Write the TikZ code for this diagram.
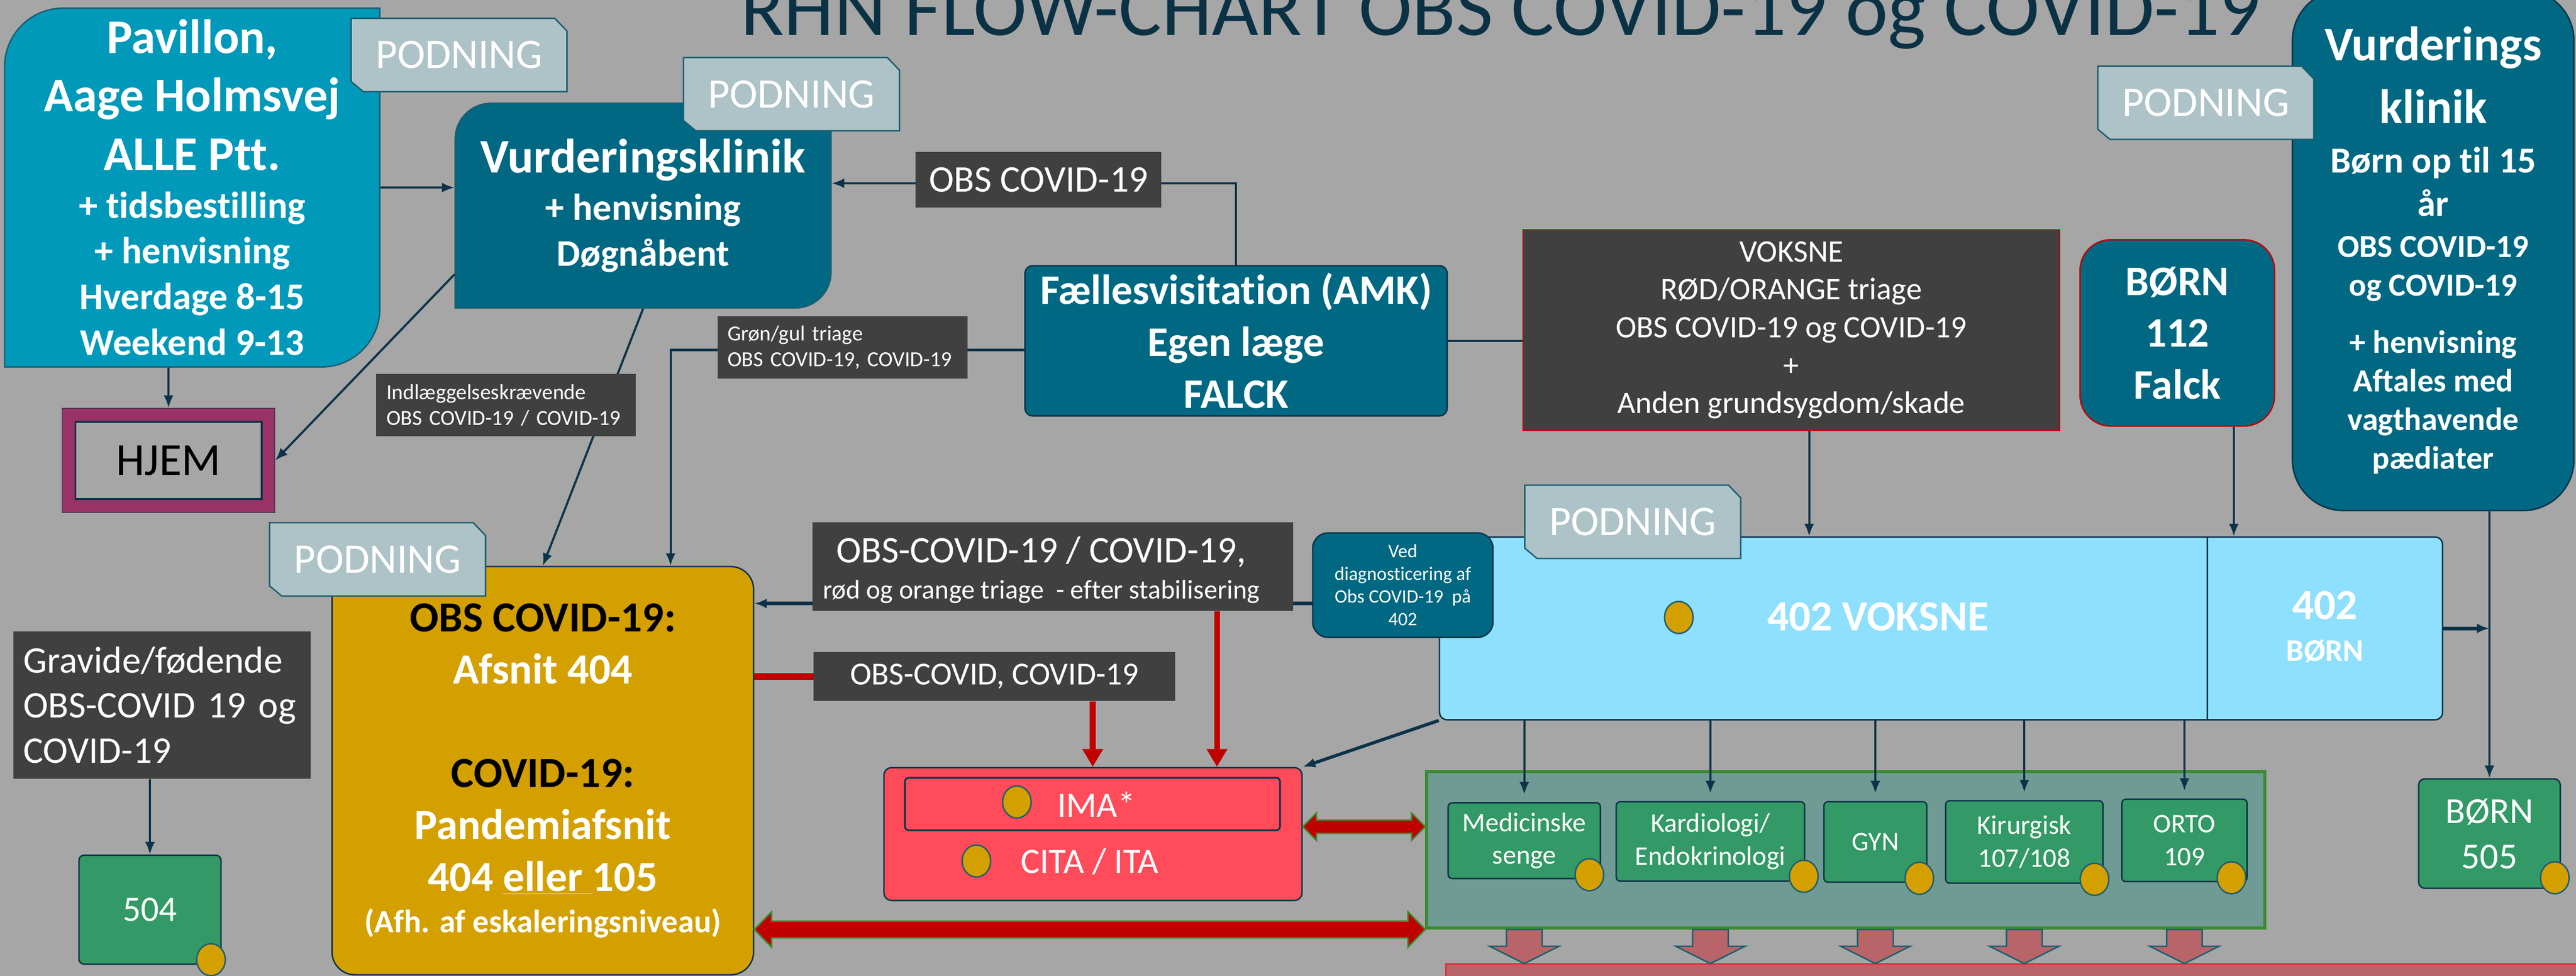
\documentclass[tikz,border=0pt]{standalone}
\usepackage{fontspec}
\setmainfont{Carlito}[Ligatures=NoCommon]
\usepackage{tikz}
\usetikzlibrary{arrows.meta,shapes.geometric,calc}

\definecolor{bgray}{HTML}{A6A6A6}
\definecolor{navy}{HTML}{0D3349}
\definecolor{titlecol}{HTML}{0B3145}
\definecolor{pavblue}{HTML}{0099BA}
\definecolor{klinik}{HTML}{006882}
\definecolor{podgray}{HTML}{ADC3C8}
\definecolor{podline}{HTML}{1D5E6E}
\definecolor{lblgray}{HTML}{404040}
\definecolor{hjemred}{HTML}{993366}
\definecolor{gold}{HTML}{D4A000}
\definecolor{lightblue}{HTML}{8FDFFF}
\definecolor{wardgreen}{HTML}{339966}
\definecolor{areagreen}{HTML}{6F9B94}
\definecolor{areaborder}{HTML}{3B8B2F}
\definecolor{imared}{HTML}{FF4B5A}
\definecolor{darkred}{HTML}{C00000}
\definecolor{dusty}{HTML}{B86468}
\definecolor{barline}{HTML}{E0303A}

\begin{document}
\begin{tikzpicture}[
 box/.style={draw=navy, line width=0.8pt, text=white, inner sep=0pt, align=center},
 lbl/.style={fill=lblgray, text=white, inner sep=0pt},
 conn/.style={draw=navy, line width=1.2pt, -{Latex[length=7pt,width=5.5pt]}},
 redarr/.style={draw=darkred, line width=3.2pt, -{Triangle[length=10pt,width=11pt]}},
 dot/.style={ellipse, fill=gold, draw=podline, line width=0.8pt, minimum width=0.56cm, minimum height=0.63cm, inner sep=0pt},
 ward/.style={box, fill=wardgreen, rounded corners=0.08cm, font=\fontsize{15}{18.3}\selectfont},
 blockarr/.style={fill=darkred, draw=areaborder, line width=0.8pt},
 downarr/.style={fill=dusty, draw=podline, line width=0.8pt},
 podtag/.style={fill=podgray, draw=podline, line width=0.8pt}]
\useasboundingbox (0,0) rectangle (50.59,-19.17);
\fill[bgray] (0,0) rectangle (50.59,-19.17);

\node[anchor=base, text=titlecol, font=\fontsize{45}{54}\selectfont] (title) at (29.47,-0.69) {RHN FLOW-CHART OBS COVID-19 og COVID-19};

%pavillon og vurderingsklinik (runde hjorner oppe venstre, nede hojre)
\draw[fill=pavblue, draw=podline, line width=0.8pt] (0.09,-7.21) -- (0.09,-1.31) arc[start angle=180, end angle=90, radius=1.15] -- (7.46,-0.16) -- (7.46,-6.06) arc[start angle=0, end angle=-90, radius=1.15] -- cycle;
\node[box, draw=none, minimum width=7.37cm, minimum height=7.05cm, font=\bfseries\fontsize{21}{25.6}\selectfont] (pav) at (3.775,-3.685) {{\fontsize{27}{32}\selectfont Pavillon,}\\[0.24cm] {\fontsize{27}{32}\selectfont Aage Holmsvej}\\[0.25cm] {\fontsize{27}{32}\selectfont ALLE Ptt.}\\[0.04cm] + tidsbestilling\\ + henvisning\\ Hverdage 8-15\\ Weekend 9-13};
\draw[fill=klinik, draw=podline, line width=0.8pt] (8.94,-6.05) -- (8.94,-2.73) arc[start angle=180, end angle=90, radius=0.7] -- (16.32,-2.03) -- (16.32,-5.35) arc[start angle=0, end angle=-90, radius=0.7] -- cycle;
\node[box, draw=none, minimum width=7.38cm, minimum height=4.02cm, font=\bfseries\fontsize{21}{25.6}\selectfont] (vk) at (12.63,-4.04) {{\fontsize{27}{32}\selectfont Vurderingsklinik}\\[0.04cm] + henvisning\\ Døgnåbent};

\node[box, fill=klinik, rounded corners=0.15cm, minimum width=8.29cm, minimum height=2.95cm, font=\bfseries\fontsize{23.5}{29}\selectfont] (fv) at (24.275,-6.695) {Fællesvisitation (AMK)\\ Egen læge\\ FALCK};
\node[box, fill=lblgray, draw=darkred, line width=0.6pt, minimum width=10.54cm, minimum height=3.95cm, font=\fontsize{17.5}{21.2}\selectfont] (vok) at (35.18,-6.485) {VOKSNE\\ RØD/ORANGE triage\\ OBS COVID-19 og COVID-19\\ +\\ Anden grundsygdom/skade};
\node[box, fill=klinik, draw=darkred, rounded corners=0.6cm, minimum width=3.82cm, minimum height=3.66cm, font=\bfseries\fontsize{23.5}{29}\selectfont] (b112) at (42.76,-6.54) {BØRN\\ 112\\ Falck};
\node[box, fill=klinik, rounded corners=1cm, minimum width=5.53cm, minimum height=10.23cm, font=\bfseries\fontsize{18}{21.6}\selectfont] (vkr) at (47.785,-4.915) {{\fontsize{27}{32}\selectfont Vurderings}\\[0.38cm] {\fontsize{27}{32}\selectfont klinik}\\[0.21cm] {\fontsize{20.5}{24}\selectfont Børn op til 15}\\[0.09cm] {\fontsize{20.5}{24}\selectfont år}\\[0.05cm] OBS COVID-19\\ og COVID-19\\[0.36cm] + henvisning\\ Aftales med\\ vagthavende\\ pædiater};

%hjem
\node[draw=navy, fill=hjemred, minimum width=4.18cm, minimum height=2.05cm, inner sep=0pt] (hjem) at (3.31,-9.045) {};
\node[draw=navy, line width=1pt, fill=bgray, minimum width=3.66cm, minimum height=1.52cm, font=\fontsize{25.6}{30}\selectfont] (hjemin) at (hjem.center) {HJEM};

\node[lbl, text width=5.44cm, inner xsep=0.2cm, minimum height=2.90cm, align=left, font=\fontsize{21}{25.2}\selectfont] (grav) at (3.18,-13.85) {Gravide/fødende\\ OBS-COVID 19 og\\ COVID-19};
\node[box, fill=wardgreen, rounded corners=0.1cm, minimum width=2.79cm, minimum height=2.14cm, font=\fontsize{20}{24}\selectfont] (b504) at (2.945,-17.87) {504};
\node[box, fill=gold, rounded corners=0.45cm, minimum width=8.28cm, minimum height=8.02cm, font=\bfseries\fontsize{24}{29}\selectfont] (obs) at (10.66,-15.14) {{\color{black}OBS COVID-19:}\\ Afsnit 404\\[1.02cm] {\color{black}COVID-19:}\\ Pandemiafsnit\\ 404 \underline{eller\ }105\\[-0.21cm] {\fontsize{18}{22}\selectfont (Afh. af eskaleringsniveau)}};

%402
\node[box, fill=lightblue, rounded corners=0.15cm, minimum width=19.70cm, minimum height=3.59cm] (v402) at (38.12,-12.345) {};
\draw[navy, line width=1pt] (43.35,-10.55) -- (43.35,-14.14);
\node[dot] (d402) at (32.97,-12.13) {};
\node[text=white, font=\bfseries\fontsize{24}{29}\selectfont] (vokstxt) at (36.88,-12.12) {402 VOKSNE};
\node[text=white, align=center, font=\bfseries\fontsize{17.5}{23.3}\selectfont] (borntxt) at (45.66,-12.32) {{\fontsize{24}{29}\selectfont 402}\\ BØRN};
\node[box, fill=klinik, rounded corners=0.3cm, minimum width=3.54cm, minimum height=2.05cm, font=\fontsize{10.6}{12.65}\selectfont] (ved) at (27.55,-11.495) {Ved\\ diagnosticering af\\ Obs COVID-19\ \ på\\ 402};

%afsnit
\node[draw=areaborder, line width=1.7pt, fill=areagreen, minimum width=16.46cm, minimum height=3.07cm, inner sep=0pt] (grn) at (36.25,-16.695) {};
\node[ward, minimum width=2.99cm, minimum height=1.49cm] (med) at (29.935,-16.515) {Medicinske\\ senge};
\node[ward, minimum width=3.70cm, minimum height=1.56cm] (kar) at (33.59,-16.53) {Kardiologi/\\ Endokrinologi};
\node[ward, minimum width=2.02cm, minimum height=1.58cm] (gyn) at (36.83,-16.54) {GYN};
\node[ward, minimum width=3.09cm, minimum height=1.62cm] (kir) at (39.755,-16.54) {Kirurgisk\\ 107/108};
\node[ward, minimum width=2.46cm, minimum height=1.62cm] (ort) at (42.90,-16.51) {ORTO\\ 109};
\node[box, fill=wardgreen, rounded corners=0.12cm, minimum width=2.78cm, minimum height=2.15cm, font=\fontsize{20.5}{25.3}\selectfont] (b505) at (48.89,-16.375) {BØRN\\ 505};

%ima / cita
\node[box, fill=imared, rounded corners=0.15cm, minimum width=8.21cm, minimum height=2.61cm] (ima) at (21.465,-16.385) {};
\node[draw=navy, line width=1pt, rounded corners=0.08cm, minimum width=7.37cm, minimum height=1.03cm, inner sep=0pt] (imain) at (21.455,-15.795) {};
\node[dot] (dima) at (19.97,-15.755) {};
\node[text=white, font=\fontsize{20}{24}\selectfont] (imatxt) at (21.53,-15.80) {IMA*};
\node[dot] (dcita) at (19.175,-16.915) {};
\node[text=white, font=\fontsize{20}{24}\selectfont] (citatxt) at (21.40,-16.93) {CITA / ITA};

\node[fill=dusty, draw=barline, line width=1pt, minimum width=22.8cm, minimum height=0.6cm, inner sep=0pt, anchor=north west] (bar) at (28.38,-18.92) {};
\foreach \w in {med,kar,gyn,kir,ort}
 \draw[downarr] let \p1=(grn.south -| \w.south) in (\x1-0.35cm,\y1) -- (\x1+0.35cm,\y1) -- (\x1+0.35cm,\y1-0.33cm) -- (\x1+0.68cm,\y1-0.33cm) -- (\x1,\y1-0.67cm) -- (\x1-0.68cm,\y1-0.33cm) -- (\x1-0.35cm,\y1-0.33cm) -- cycle;

%pile bag etiketterne
\draw[conn] (fv.north) |- ([yshift=0.44cm]vk.east);
\draw[conn] ([yshift=-0.18cm]fv.west) -| ([xshift=2.51cm]obs.north);
\draw[conn] (vk.south) -- (obs.north);
\draw[conn, line width=2pt] ([yshift=-0.36cm]ved.west) -- ([yshift=-0.36cm]ved.west -| obs.east);

\node[lbl, minimum width=4.83cm, minimum height=1.10cm, font=\fontsize{21}{25}\selectfont] (obslbl) at (20.395,-3.53) {OBS COVID-19};
\node[lbl, text width=4.51cm, inner xsep=0.2cm, minimum height=1.23cm, align=left, font=\fontsize{12}{14.5}\selectfont] (gglbl) at (16.545,-6.825) {Grøn/gul triage\\ OBS COVID-19, COVID-19};
\node[lbl, text width=4.70cm, inner xsep=0.2cm, minimum height=1.22cm, align=left, font=\fontsize{12}{14.5}\selectfont] (indl) at (9.94,-7.96) {Indlæggelseskrævende\\ OBS COVID-19 / COVID-19};
\node[lbl, minimum width=9.44cm, minimum height=1.74cm] (lbl1) at (20.68,-11.13) {};
\node[text=white, align=center, inner sep=0pt, font=\fontsize{15}{20.1}\selectfont] (lbl1txt) at (20.45,-11.2) {{\fontsize{21}{25}\selectfont OBS-COVID-19 / COVID-19,}\\ rød og orange triage\ \ - efter stabilisering};
\node[lbl, minimum width=7.10cm, minimum height=0.96cm, font=\fontsize{18}{22}\selectfont] (lbl2) at (19.53,-13.29) {OBS-COVID, COVID-19};

%pile
\draw[conn] (pav.east) -- (pav.east -| vk.west);
\draw[conn] (hjem.north |- pav.south) -- (hjem.north);
\draw[conn] ([yshift=-1.35cm]vk.west) -- (hjem.east);
\draw[navy, line width=1.2pt] (fv.east) -- (fv.east -| vok.west);
\draw[conn] ([xshift=0.35cm]vok.south) -- ([xshift=0.35cm]vok.south |- v402.north);
\draw[conn] ([xshift=1.11cm]b112.south) -- ([xshift=1.11cm]b112.south |- v402.north);
\draw[conn] (b505.north |- vkr.south) -- (b505.north);
\draw[conn, line width=2pt] (v402.east) -- (v402.east -| b505.north);
\draw[conn, line width=1.8pt] (v402.south west) -- (ima.north east);
\foreach \w in {med,kar,gyn,kir,ort}
 \draw[conn] (v402.south -| \w.north) -- ([yshift=0.15cm]\w.north);
\draw[conn] (b504.north |- grav.south) -- (b504.north);

\draw[darkred, line width=3.5pt] (obs.east |- lbl2.west) -- (lbl2.west);
\draw[redarr] ([xshift=1.93cm]lbl2.south) -- ([xshift=1.93cm]lbl2.south |- ima.north);
\draw[redarr] ([xshift=3.22cm]lbl1.south) -- ([xshift=3.22cm]lbl1.south |- ima.north);

%dobbeltpile
\draw[blockarr] let \p1=([yshift=0.145cm]ima.east), \p2=(grn.west) in (\x1,\y1) -- ++(0.27,0.27) -- ++(0,-0.14) -- (\x2-0.27cm,\y1+0.13cm) -- ++(0,0.14) -- (\x2,\y1) -- ++(-0.27,-0.27) -- ++(0,0.14) -- (\x1+0.27cm,\y1-0.13cm) -- ++(0,-0.14) -- cycle;
\draw[blockarr] let \p1=([yshift=-3.12cm]obs.east), \p2=(grn.west) in (\x1,\y1) -- ++(0.34,0.35) -- ++(0,-0.185) -- (\x2-0.34cm,\y1+0.165cm) -- ++(0,0.185) -- (\x2,\y1) -- ++(-0.34,-0.35) -- ++(0,0.185) -- (\x1+0.34cm,\y1-0.165cm) -- ++(0,-0.185) -- cycle;

%podning-mærker og prikker
\foreach \w/\dx/\dy in {med/0.23/0.09, kar/0.03/0.11, gyn/0.16/0.09, kir/0.18/0.09, ort/0.32/0.09, b504/0.21/0.10, b505/0.12/0.22}
 \node[dot] (d\w) at ([xshift=-\dx*1cm, yshift=\dy*1cm]\w.south east) {};
\foreach \n/\x/\y in {1/9.015/-1.08, 2/15.545/-1.85, 3/43.32/-2.02, 4/7.415/-10.99, 5/32.065/-10.25} {
 \draw[podtag] (\x-2.12,\y+0.72) -- (\x+1.88,\y+0.72) -- (\x+2.12,\y+0.47) -- (\x+2.12,\y-0.72) -- (\x-1.88,\y-0.72) -- (\x-2.12,\y-0.52) -- cycle;
 \node[text=white, font=\fontsize{23.5}{28}\selectfont] (pod\n) at (\x,\y) {PODNING};
}
\end{tikzpicture}
\end{document}
